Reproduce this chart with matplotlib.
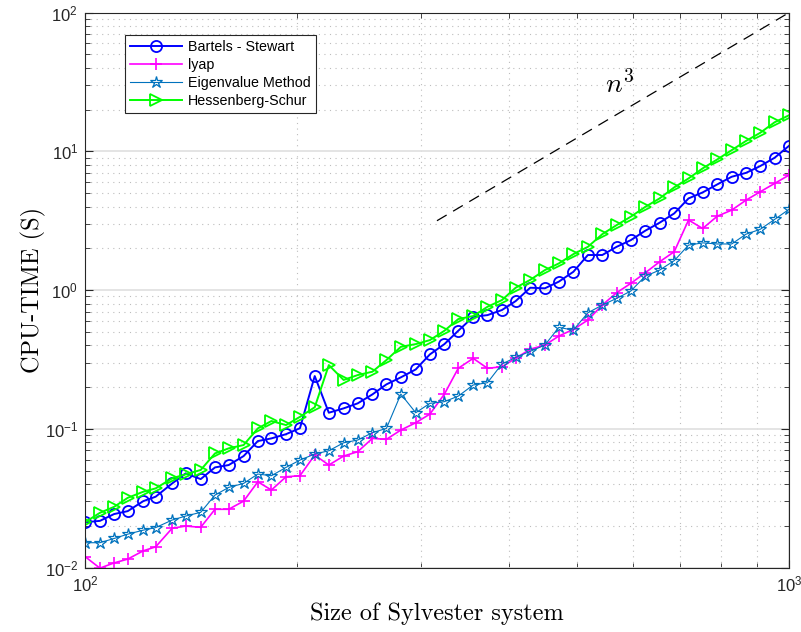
import matplotlib
matplotlib.use('Agg')
import matplotlib.pyplot as plt
from matplotlib.ticker import LogLocator, LogFormatterMathtext, NullFormatter

plt.rcParams['font.family'] = ['Liberation Sans', 'DejaVu Sans']
plt.rcParams['mathtext.fontset'] = 'cm'

# problem sizes (log spaced, 50 runs)
n = [100, 105, 110, 115, 121, 126, 133, 139, 146, 153,
     160, 168, 176, 184, 193, 202, 212, 222, 233, 244,
     256, 268, 281, 295, 309, 324, 339, 356, 373, 391,
     409, 429, 450, 471, 494, 518, 543, 569, 596, 625,
     655, 687, 720, 754, 791, 829, 869, 910, 954, 1000]

# CPU time in seconds
t_bartels = [0.0212, 0.0217, 0.0243, 0.0255, 0.0301, 0.0324, 0.0404, 0.0477, 0.0434, 0.0527,
             0.0548, 0.0636, 0.0816, 0.0853, 0.0915, 0.1010, 0.240, 0.1306, 0.1404, 0.1526,
             0.177, 0.209, 0.235, 0.268, 0.344, 0.408, 0.509, 0.642, 0.660, 0.718,
             0.833, 1.04, 1.03, 1.15, 1.355, 1.79, 1.79, 2.05, 2.29, 2.68,
             3.06, 3.57, 4.58, 5.06, 5.78, 6.56, 7.00, 7.83, 8.99, 10.96]
t_lyap = [0.0120, 0.0099, 0.0108, 0.0115, 0.0132, 0.0141, 0.0192, 0.0199, 0.0195, 0.0263,
          0.0263, 0.0301, 0.0415, 0.0362, 0.0451, 0.0459, 0.0647, 0.0548, 0.0636, 0.0684,
          0.0853, 0.0839, 0.098, 0.1106, 0.1277, 0.178, 0.273, 0.322, 0.273, 0.280,
          0.322, 0.375, 0.401, 0.466, 0.521, 0.608, 0.780, 0.957, 1.117, 1.333,
          1.60, 1.89, 3.20, 2.78, 3.41, 3.77, 4.45, 5.11, 5.87, 6.74]
t_eigen = [0.0151, 0.0151, 0.0162, 0.0174, 0.0186, 0.0194, 0.0220, 0.0235, 0.0250, 0.0333,
           0.0378, 0.0404, 0.0472, 0.0459, 0.0527, 0.0595, 0.0658, 0.0695, 0.0793, 0.0830,
           0.0937, 0.1007, 0.178, 0.1306, 0.1526, 0.157, 0.172, 0.207, 0.215, 0.293,
           0.327, 0.362, 0.401, 0.538, 0.515, 0.686, 0.780, 0.871, 0.984, 1.26,
           1.393, 1.63, 2.11, 2.19, 2.15, 2.15, 2.53, 2.74, 3.23, 3.82]
t_hessen = [0.0212, 0.0248, 0.0274, 0.0318, 0.0352, 0.0372, 0.0440, 0.0470, 0.0505, 0.0665,
            0.0723, 0.0764, 0.1007, 0.1138, 0.1064, 0.122, 0.143, 0.288, 0.225, 0.244,
            0.258, 0.313, 0.390, 0.408, 0.436, 0.509, 0.618, 0.650, 0.758, 0.847,
            1.04, 1.185, 1.393, 1.556, 1.816, 2.05, 2.53, 2.94, 3.38, 3.98,
            4.58, 5.50, 6.38, 7.54, 8.75, 10.2, 11.9, 13.6, 16.2, 18.2]

# reference slope line
ref_n = [316.2, 1000]
ref_t = [1e-7 * v ** 3 for v in ref_n]

fig = plt.figure(figsize=(8.01, 6.32), dpi=100)
ax = fig.add_axes([0.1061, 0.102, 0.8789, 0.878])

ax.loglog(n, t_bartels, '-o', color='#0000ff', lw=1.4, ms=8, mfc='none', mew=1.3,
          label='Bartels - Stewart')
ax.loglog(n, t_lyap, '-+', color='#ff00ff', lw=1.2, ms=9, mew=1.2, label='lyap')
ax.loglog(n, t_eigen, '-*', color='#0072bd', lw=0.8, ms=9, mfc='none', mew=0.9,
          label='Eigenvalue Method')
ax.loglog(n, t_hessen, '->', color='#00ff00', lw=1.4, ms=8, mfc='none', mew=1.3,
          label='Hessenberg-Schur')
ax.loglog(ref_n, ref_t, color='black', lw=0.9, dashes=(9, 6))
ax.text(575, 30, r'$n^3$', fontsize=20, ha='center', va='center')

ax.set_xlim(100, 1000)
ax.set_ylim(1e-2, 1e2)

ax.xaxis.set_major_locator(LogLocator(base=10))
ax.yaxis.set_major_locator(LogLocator(base=10))
ax.xaxis.set_minor_locator(LogLocator(base=10, subs=range(2, 10)))
ax.yaxis.set_minor_locator(LogLocator(base=10, subs=range(2, 10)))
ax.xaxis.set_major_formatter(LogFormatterMathtext())
ax.yaxis.set_major_formatter(LogFormatterMathtext())
ax.xaxis.set_minor_formatter(NullFormatter())
ax.yaxis.set_minor_formatter(NullFormatter())

ax.grid(which='major', ls='-', color='#e2e2e2', lw=1.3)
ax.grid(which='minor', color='#bdbdbd', lw=0.8, dashes=(1, 4))
ax.set_axisbelow(True)

ax.tick_params(which='both', direction='in', top=True, right=True, color='#262626',
               labelsize=12, labelcolor='#262626')
ax.tick_params(which='major', length=6, width=0.8, pad=5)
ax.tick_params(which='minor', length=3.5, width=0.6)
for sp in ax.spines.values():
    sp.set_color('#262626')
    sp.set_linewidth(0.8)

ax.set_xlabel('Size of Sylvester system', fontfamily='cmr10', fontsize=17.5, labelpad=6)
ax.set_ylabel('CPU-TIME (S)', fontfamily='cmr10', fontsize=17.5)
ax.yaxis.set_label_coords(-0.056, 0.5)

leg = ax.legend(loc='upper left', bbox_to_anchor=(0.057, 0.96), borderaxespad=0,
                fontsize=10.3, handlelength=3.6, labelspacing=0.28, borderpad=0.35,
                handletextpad=0.45, fancybox=False, framealpha=1)
leg.get_frame().set_edgecolor('#262626')
leg.get_frame().set_linewidth(0.8)

fig.savefig('out.png', dpi=100)
